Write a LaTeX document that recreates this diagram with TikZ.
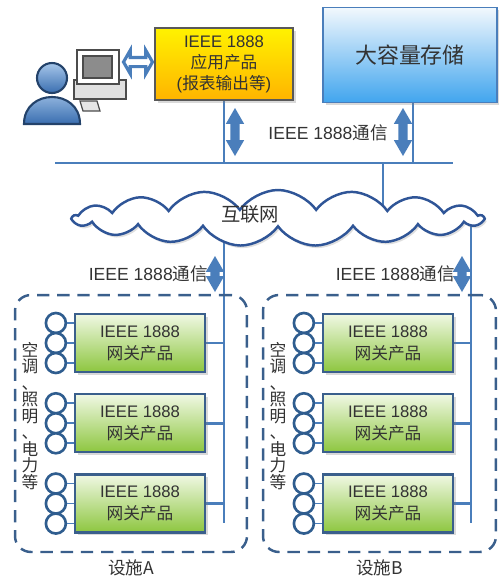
\documentclass[tikz,border=0pt]{standalone}
\usepackage{fontspec}
\setmainfont{Liberation Sans}
\newfontfamily\cjk{Noto Sans CJK SC}
\usetikzlibrary{shapes,arrows,positioning,calc,shadows,backgrounds}

\definecolor{linkblue}{HTML}{4A7EBB}
\definecolor{frameblue}{HTML}{3A5F8C}
\definecolor{portblue}{HTML}{2F5D8F}
\definecolor{cloudblue}{HTML}{2F5597}
\definecolor{textgray}{HTML}{333333}
\definecolor{apptop}{HTML}{FFF200}
\definecolor{appbot}{HTML}{FFB400}
\definecolor{storetop}{HTML}{F2F8FD}
\definecolor{storebot}{HTML}{41A5EE}
\definecolor{gwtop}{HTML}{F0F8E4}
\definecolor{gwbot}{HTML}{8DC63F}
\definecolor{persontop}{HTML}{A7C7EA}
\definecolor{personbot}{HTML}{3A6EB0}

\begin{document}
\begin{tikzpicture}[x=0.02cm, y=-0.02cm, font=\fontsize{9.5}{12}\selectfont, text=textgray,
    link/.style={draw=linkblue, line width=1.5pt},
    commlabel/.style={font=\fontsize{10}{12}\selectfont, inner sep=1pt},
    appbox/.style={rectangle, draw=black!65, line width=0.8pt, top color=apptop, bottom color=appbot,
        minimum width=2.76cm, minimum height=1.44cm, align=center, font=\fontsize{9.5}{12}\selectfont,
        drop shadow={shadow xshift=1.5pt, shadow yshift=-1.5pt, opacity=0.3}},
    storebox/.style={rectangle, draw=linkblue, line width=0.8pt, top color=storetop, bottom color=storebot,
        minimum width=3.48cm, minimum height=1.9cm, font=\cjk\fontsize{12.5}{14}\selectfont,
        drop shadow={shadow xshift=1.5pt, shadow yshift=-1.5pt, opacity=0.3}},
    gateway/.style={rectangle, draw=frameblue, line width=1.3pt, top color=gwtop, bottom color=gwbot,
        minimum width=2.6cm, minimum height=1.16cm, align=center, font=\fontsize{9.5}{12.5}\selectfont,
        drop shadow={shadow xshift=1.5pt, shadow yshift=-1.5pt, opacity=0.3}},
    port/.style={circle, draw=portblue, line width=1.5pt, fill=white, minimum size=0.4cm, inner sep=0},
    updown/.style={double arrow, shape border rotate=90, fill=linkblue, inner sep=0.085cm,
        double arrow head extend=0.09cm, double arrow tip angle=60},
    hollowarrow/.style={double arrow, draw=linkblue, line width=1.8pt, fill=white, inner sep=0.06cm,
        minimum height=0.58cm, double arrow head extend=0.14cm, double arrow tip angle=120},
    netcloud/.style={cloud, cloud puffs=17, cloud puff arc=110, cloud ignores aspect, inner sep=0,
        minimum width=8.2cm, minimum height=1.12cm, draw=cloudblue, line width=1.4pt, fill=white,
        drop shadow={shadow xshift=1pt, shadow yshift=-1.5pt, opacity=0.25}},
    siteframe/.style={rectangle, draw=frameblue, line width=1.4pt, dash pattern=on 7pt off 4.5pt,
        rounded corners=9pt},
    devtext/.style={align=center, font=\cjk\fontsize{9.5}{9.4}\selectfont},
    pcline/.style={draw=black!70, line width=0.7pt},
    person/.style={draw=personbot!60!black, line width=1.2pt, top color=persontop, bottom color=personbot}]
    \useasboundingbox (0,0) rectangle (499,576);

    % User at the terminal
    \draw[pcline, fill=black!12] (74,80) rectangle (126,99);
    \draw[pcline, fill=white] (77,50) rectangle (119,84);
    \draw[pcline, fill=black!45] (83,56) rectangle (112,78);
    \draw[pcline, fill=black!10] (80,101) -- (97,101) -- (100,111) -- (83,111) -- cycle;
    \draw[person] (24,124) .. controls (24,88) and (80,88) .. (80,124) -- cycle;
    \draw[person] (52,78) circle[radius=0.3cm];
    \node[hollowarrow] (ui) at (138,62) {};

    % Application and storage
    \node[appbox] (app) at (224,64) {IEEE 1888\\{\cjk 应用产品}\\({\cjk 报表输出等})};
    \node[storebox] (store) at (410,55) {大容量存储};

    % Bus
    \coordinate (busL) at (55,163);
    \coordinate (busR) at (453,163);
    \coordinate (hub) at (383,163);
    \coordinate (storeTap) at (413,163);
    \node[updown, minimum height=0.96cm] (upApp) at (235,132) {};
    \node[updown, minimum height=0.96cm] (upStore) at (403,132) {};
    \node[commlabel] (lblTop) at (328,133) {IEEE 1888{\cjk 通信}};

    % Internet
    \node[netcloud] (net) at (278,218) {};
    \node[font=\cjk\fontsize{11}{13}\selectfont] (netLbl) at (250,214) {互联网};

    % Facilities
    \node[siteframe, minimum width=4.64cm, minimum height=5.14cm] (siteA) at (131,423.5) {};
    \node[below=0pt of siteA, font=\cjk] (siteALbl) {设施A};
    \node[siteframe, minimum width=4.66cm, minimum height=5.14cm] (siteB) at (379.5,423.5) {};
    \node[below=0pt of siteB, font=\cjk] (siteBLbl) {设施B};

    \coordinate (tapA) at (224,523);
    \coordinate (tapB) at (471,523);
    \node[updown, minimum height=0.72cm] (downA) at (215,274) {};
    \node[updown, minimum height=0.72cm] (downB) at (462,274) {};
    \node[commlabel, left=0pt of downA] (lblA) {IEEE 1888{\cjk 通信}};
    \node[commlabel, left=0pt of downB] (lblB) {IEEE 1888{\cjk 通信}};

    \node[gateway] (gwA1) at (140,343) {IEEE 1888\\{\cjk 网关产品}};
    \node[gateway, below=0.4cm of gwA1] (gwA2) {IEEE 1888\\{\cjk 网关产品}};
    \node[gateway, below=0.4cm of gwA2] (gwA3) {IEEE 1888\\{\cjk 网关产品}};
    \node[gateway] (gwB1) at (388,343) {IEEE 1888\\{\cjk 网关产品}};
    \node[gateway, below=0.4cm of gwB1] (gwB2) {IEEE 1888\\{\cjk 网关产品}};
    \node[gateway, below=0.4cm of gwB2] (gwB3) {IEEE 1888\\{\cjk 网关产品}};

    \node[devtext] (devA) at (30,416) {空\\调\\、\\照\\明\\、\\电\\力\\等};
    \node[devtext] (devB) at (278,416) {空\\调\\、\\照\\明\\、\\电\\力\\等};

    % Device ports on each gateway
    \foreach \g in {A1,A2,A3,B1,B2,B3} {
        \foreach \k/\dy in {1/-20,2/0,3/20} {
            \node[port] (\g p\k) at ([shift={(-18,\dy)}]gw\g.west) {};
            \draw[linkblue, line width=1pt] (\g p\k.east) -- (gw\g.west |- \g p\k);
        }
    }

    % Links
    \begin{pgfonlayer}{background}
        \draw[link] (busL) -- (busR);
        \draw[link] (app) -- (app |- busL);
        \draw[link] (storeTap |- store.center) -- (storeTap);
        \draw[link] (hub) -- (hub |- net.center);
        \draw[link] (tapA |- net.center) -- (tapA);
        \draw[link] (tapB |- net.center) -- (tapB);
        \foreach \g in {1,2,3} {
            \draw[link] (gwA\g.east) -- (gwA\g.east -| tapA);
            \draw[link] (gwB\g.east) -- (gwB\g.east -| tapB);
        }
    \end{pgfonlayer}
\end{tikzpicture}
\end{document}
